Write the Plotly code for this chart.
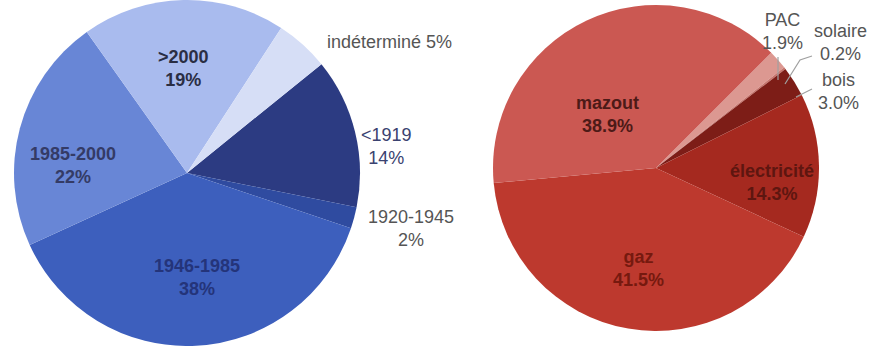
import plotly.graph_objects as go

# Construction period of dwellings (%)
periods = ["<1919", "1920-1945", "1946-1985", "1985-2000", ">2000", "indéterminé"]
period_share = [14, 2, 38, 22, 19, 5]
period_colors = ["#2c3b82", "#2f4ba0", "#3d5fbd", "#6886d6", "#a9bbee", "#d6def6"]

# Heating energy (%)
energies = ["PAC", "solaire", "bois", "électricité", "gaz", "mazout"]
energy_share = [1.9, 0.2, 3.0, 14.3, 41.5, 38.9]
energy_colors = ["#dc9891", "#c8766e", "#7d1d17", "#a5291f", "#bd392e", "#cb5852"]

W, H = 869, 346
FONT = "Liberation Sans, Arial, sans-serif"


def px(x):
    return x / W


def py(y):
    return 1 - y / H


fig = go.Figure()
fig.add_trace(go.Pie(
    labels=periods, values=period_share, sort=False, direction="clockwise",
    rotation=51, marker=dict(colors=period_colors, line=dict(width=0)),
    textinfo="none", hoverinfo="label+percent",
    domain=dict(x=[px(14), px(360)], y=[0, 1]), showlegend=False,
))
fig.add_trace(go.Pie(
    labels=energies, values=energy_share, sort=False, direction="clockwise",
    rotation=45, marker=dict(colors=energy_colors, line=dict(width=0)),
    textinfo="none", hoverinfo="label+percent",
    domain=dict(x=[px(493), px(819)], y=[py(331), py(5)]), showlegend=False,
))

# label placement (pixel centres) and styling per slice
period_label_pos = [(386, 146), (411, 228), (197, 277), (73, 166), (183, 68), (389, 42)]
period_label_col = ["#3a4270", "#555555", "#24347a", "#343b66", "#2a2e44", "#555555"]
period_label_bold = [False, False, True, True, True, False]

energy_label_pos = [(782, 32), (840, 42), (838, 92), (772, 182), (638, 268), (607, 114)]
energy_label_col = ["#555555", "#555555", "#555555", "#5e1610", "#76190f", "#4d1a17"]
energy_label_bold = [False, False, False, True, True, True]

annotations = []
for name, val, (x, y), col, bold in zip(periods, period_share, period_label_pos,
                                        period_label_col, period_label_bold):
    txt = f"{name} {val}%" if name == "indéterminé" else f"{name}<br>{val}%"
    if bold:
        txt = f"<b>{txt}</b>"
    annotations.append(dict(x=px(x), y=py(y), xref="paper", yref="paper", text=txt,
                            showarrow=False, xanchor="center", yanchor="middle",
                            font=dict(family=FONT, size=18, color=col)))

for name, val, (x, y), col, bold in zip(energies, energy_share, energy_label_pos,
                                        energy_label_col, energy_label_bold):
    txt = f"{name}<br>{val:.1f}%"
    if bold:
        txt = f"<b>{txt}</b>"
    annotations.append(dict(x=px(x), y=py(y), xref="paper", yref="paper", text=txt,
                            showarrow=False, xanchor="center", yanchor="middle",
                            font=dict(family=FONT, size=18, color=col)))

# leader lines for the thin slices
leaders = [
    "M {} {} L {} {}".format(px(778), py(57), px(778), py(80)),
    "M {} {} L {} {} L {} {}".format(px(812), py(56), px(800), py(60), px(785), py(84)),
    "M {} {} L {} {}".format(px(812), py(89), px(796), py(97)),
]
shapes = [dict(type="path", path=p, xref="paper", yref="paper",
               line=dict(color="#a0a0a0", width=1.2)) for p in leaders]

fig.update_layout(
    width=W, height=H, margin=dict(l=0, r=0, t=0, b=0),
    paper_bgcolor="white", plot_bgcolor="white",
    annotations=annotations, shapes=shapes,
)
fig.write_html("out.html")
